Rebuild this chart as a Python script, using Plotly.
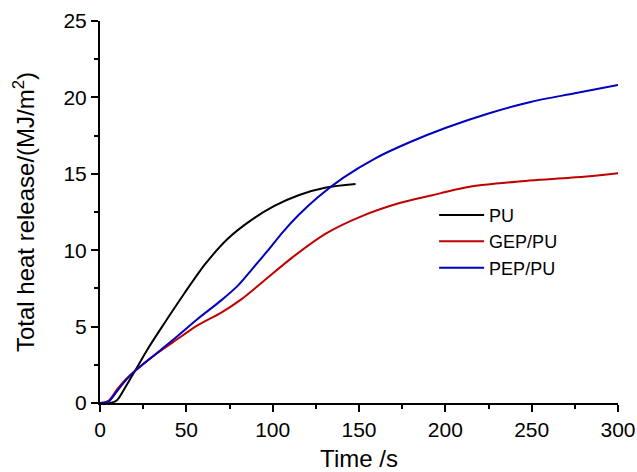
import plotly.graph_objects as go

# ---- data ----
pu_t = [0, 6, 10, 14, 20, 28, 36, 49, 61, 74, 88, 101, 115, 131, 148]
pu_thr = [0, 0, 0.2, 0.9, 2.05, 3.6, 5.0, 7.2, 9.1, 10.75, 12.0, 12.9, 13.6, 14.1, 14.33]

gep_t = [0, 5, 10, 15, 20, 30, 42, 56, 70, 82, 95, 112, 131, 151, 174, 197, 214, 241, 280, 300]
gep_thr = [0, 0.15, 0.9, 1.55, 2.07, 3.0, 3.95, 5.05, 5.9, 6.8, 8.0, 9.58, 11.1, 12.2, 13.1, 13.72, 14.15, 14.48,
           14.8, 15.03]

pep_t = [0, 5, 10, 15, 20, 30, 42, 56, 70, 80, 88, 97, 106, 115, 126, 141, 160, 180, 200, 225, 250, 275, 300]
pep_thr = [0, 0.1, 0.8, 1.5, 2.07, 3.0, 4.1, 5.45, 6.7, 7.7, 8.75, 9.95, 11.2, 12.3, 13.45, 14.75, 16.05, 17.1,
           18.0, 18.95, 19.72, 20.27, 20.82]

series_names = ["PU", "GEP/PU", "PEP/PU"]
series_colors = ["#000000", "#C00000", "#0000C0"]

x_title = "Time /s"
y_title = "Total heat release/(MJ/m<sup>2</sup>)"

FONT = "Arial, 'Liberation Sans', sans-serif"

fig = go.Figure()
for name, xs, ys, col in zip(series_names, [pu_t, gep_t, pep_t], [pu_thr, gep_thr, pep_thr], series_colors):
    fig.add_trace(go.Scatter(x=xs, y=ys, mode="lines", name=name,
                             line=dict(color=col, width=2, shape="spline", smoothing=0.8)))

axis_common = dict(
    showline=True, linecolor="black", linewidth=2,
    ticks="outside", ticklen=7, tickwidth=2, tickcolor="black",
    showgrid=False, zeroline=False,
    tickfont=dict(family=FONT, size=21, color="black"),
    minor=dict(ticks="outside", ticklen=4, tickwidth=2, tickcolor="black", showgrid=False),
)

fig.update_xaxes(range=[0, 300], dtick=50, tick0=0, minor_dtick=25, **axis_common,
                 title=dict(text=x_title, font=dict(family=FONT, size=24, color="black"), standoff=12))
fig.update_yaxes(range=[0, 25], dtick=5, tick0=0, minor_dtick=2.5, **axis_common,
                 title=dict(text=y_title, font=dict(family=FONT, size=24, color="black"), standoff=22))

fig.update_layout(
    width=637, height=472,
    margin=dict(l=100, r=19, t=21, b=69, autoexpand=False),
    plot_bgcolor="white", paper_bgcolor="white",
    font=dict(family=FONT, color="black"),
    legend=dict(x=0.645, y=0.54, xanchor="left", yanchor="top",
                bgcolor="rgba(0,0,0,0)", borderwidth=0,
                font=dict(family=FONT, size=18, color="black"),
                itemwidth=45, tracegroupgap=0),
)

fig.write_html("out.html", config={"displayModeBar": False},
               post_script="document.body.style.margin='0';")
